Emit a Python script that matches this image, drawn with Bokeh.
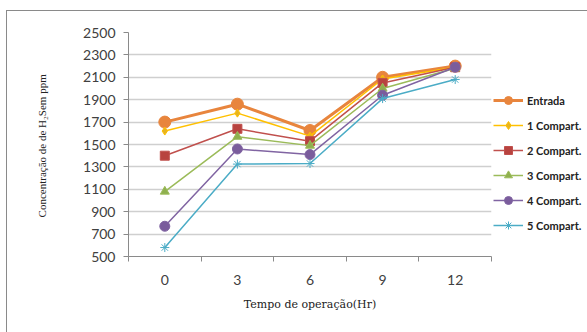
from bokeh.plotting import figure
from bokeh.models import Legend, LegendItem, FixedTicker, Range1d
from bokeh.embed import file_html
from bokeh.resources import INLINE

hours = ["0", "3", "6", "9", "12"]
names = ["Entrada", "1 Compart.", "2 Compart.", "3 Compart.", "4 Compart.", "5 Compart."]
entrada = [1700, 1860, 1625, 2100, 2200]
comp1 = [1620, 1780, 1575, 2085, 2190]
comp2 = [1400, 1640, 1530, 2050, 2190]
comp3 = [1080, 1570, 1490, 2000, 2180]
comp4 = [770, 1460, 1410, 1940, 2190]
comp5 = [580, 1325, 1330, 1910, 2080]
y_ticks = list(range(500, 2501, 200))

xs = [i + 0.5 for i in range(len(hours))]

p = figure(frame_width=363, frame_height=224, output_backend="svg", toolbar_location=None,
           x_range=Range1d(0, len(hours)), y_range=Range1d(500, 2500),
           min_border_left=121, min_border_right=97, min_border_top=21, min_border_bottom=77)
p.margin = (10, 0, 0, 6)
p.styles = {"border-left": "1px solid #8a8a8a", "border-top": "1px solid #8a8a8a"}
p.outline_line_color = None
p.background_fill_color = "white"
p.border_fill_color = "white"

# axes
p.xaxis.ticker = FixedTicker(ticks=xs, minor_ticks=list(range(len(hours) + 1)))
p.xaxis.major_label_overrides = {x: h for x, h in zip(xs, hours)}
p.xaxis.major_tick_out = 0
p.xaxis.major_tick_in = 0
p.xaxis.minor_tick_out = 5
p.xaxis.minor_tick_in = 0
p.xaxis.minor_tick_line_color = "#8a8a8a"
p.xaxis.axis_line_color = "#8a8a8a"
p.xaxis.major_label_standoff = 13
p.xaxis.axis_label = "Tempo de operação(Hr)"
p.xaxis.axis_label_text_font = "DejaVu Serif"
p.xaxis.axis_label_text_font_style = "normal"
p.xaxis.axis_label_text_font_size = "11px"
p.xaxis.axis_label_text_color = "#222222"
p.xaxis.axis_label_standoff = 10

p.yaxis.ticker = FixedTicker(ticks=y_ticks, minor_ticks=[])
p.yaxis.major_tick_out = 5
p.yaxis.major_tick_in = 0
p.yaxis.major_tick_line_color = "#8a8a8a"
p.yaxis.axis_line_color = "#8a8a8a"
p.yaxis.major_label_standoff = 8
p.yaxis.axis_label = "Concentração de  de H₂Sem ppm"
p.yaxis.axis_label_text_font = "Liberation Serif"
p.yaxis.axis_label_text_font_style = "normal"
p.yaxis.axis_label_text_font_size = "11px"
p.yaxis.axis_label_text_color = "#222222"
p.yaxis.axis_label_standoff = 32

for ax in (p.xaxis, p.yaxis):
    ax.major_label_text_font = "Lato"
    ax.major_label_text_font_size = "14px"
    ax.major_label_text_color = "#404040"

p.xgrid.grid_line_color = None
p.ygrid.grid_line_color = "#cfcfcf"
p.ygrid.grid_line_width = 1.5

colors = ["#E8853D", "#FFC000", "#C0504D", "#9BBB59", "#8064A2", "#4BACC6"]
data = [entrada, comp1, comp2, comp3, comp4, comp5]
markers = ["circle", "diamond", "square", "triangle", "circle", "asterisk"]
sizes = [12, 8, 9, 9, 10, 9]
fills = ["#E8853D", "#E6B422", "#B8433F", "#8FB04E", "#7A5C9C", "#4BACC6"]
widths = [3, 1.5, 1.5, 1.5, 1.5, 1.5]

items = []
for name, ys, c, m, s, f, w in zip(names, data, colors, markers, sizes, fills, widths):
    r1 = p.line(xs, ys, line_color=c, line_width=w)
    r2 = p.scatter(xs, ys, marker=m, size=s, fill_color=f, line_color=c, line_width=1)
    items.append(LegendItem(label=name, renderers=[r1, r2]))

legend = Legend(items=items, location=(2, 21))
legend.padding = 0
legend.margin = 0
legend.spacing = 5
legend.label_height = 20
legend.glyph_height = 20
legend.glyph_width = 30
legend.label_standoff = 4
legend.border_line_color = None
legend.background_fill_alpha = 0
legend.label_text_font = "Lato"
legend.label_text_font_style = "bold"
legend.label_text_font_size = "11px"
legend.label_text_color = "#222222"
p.add_layout(legend, "right")

open("out.html", "w").write(file_html(p, INLINE))
